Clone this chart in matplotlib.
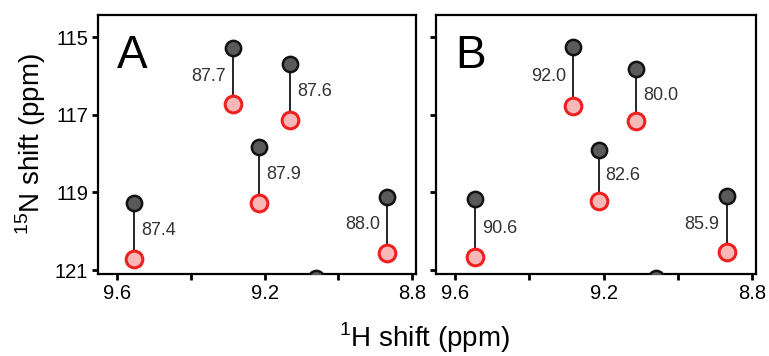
import matplotlib.pyplot as plt

plt.rcParams['font.family'] = ['Liberation Sans', 'DejaVu Sans']
plt.rcParams['mathtext.fontset'] = 'custom'
plt.rcParams['mathtext.rm'] = 'Liberation Sans'

# peak positions (1H ppm, 15N ppm)
h_a = [9.553, 9.286, 9.130, 9.214, 8.868]
n_black_a = [119.26, 115.29, 115.68, 117.82, 119.11]
n_red_a = [120.71, 116.72, 117.13, 119.28, 120.56]
labels_a = ['87.4', '87.7', '87.6', '87.9', '88.0']

h_b = [9.546, 9.283, 9.113, 9.213, 8.869]
n_black_b = [119.18, 115.25, 115.83, 117.90, 119.10]
n_red_b = [120.67, 116.77, 117.15, 119.23, 120.53]
labels_b = ['90.6', '92.0', '80.0', '82.6', '85.9']

label_side = ['right', 'left', 'right', 'right', 'left']
edge_peak = (9.06, 121.2)

fig = plt.figure(figsize=(7.69, 3.56), dpi=100)
ax_a = fig.add_axes([0.1274, 0.2303, 0.4135, 0.7275])
ax_b = fig.add_axes([0.567, 0.2303, 0.416, 0.7275])


def draw_panel(ax, h, n_black, n_red, labels, letter):
    for x, yb, yr, lab, side in zip(h, n_black, n_red, labels, label_side):
        ax.plot([x, x], [yb, yr], color='black', lw=1.2, zorder=2)
        ax.plot(x, yb, 'o', ms=11, mfc='#5a5a5a', mec='#111111', mew=1.8, zorder=3)
        ax.plot(x, yr, 'o', ms=12, mfc='#f8b8b8', mec='#ee2020', mew=2.2, zorder=3)
        dx = 5 if side == 'right' else -5
        ha = 'left' if side == 'right' else 'right'
        ax.annotate(lab, (x, (yb + yr) / 2), xytext=(dx, 0), textcoords='offset points',
                    ha=ha, va='center', fontsize=13, color='#333333')
    ax.plot(*edge_peak, 'o', ms=11, mfc='#5a5a5a', mec='#111111', mew=1.8, zorder=3)
    ax.text(0.06, 0.925, letter, transform=ax.transAxes, fontsize=33, va='top', ha='left')
    ax.set_xlim(9.651, 8.79)
    ax.set_ylim(121.1, 114.43)
    ax.set_xticks([9.6, 9.4, 9.2, 9.0, 8.8])
    ax.set_xticklabels(['9.6', '', '9.2', '', '8.8'])
    ax.set_yticks([115, 117, 119, 121])
    ax.tick_params(direction='out', length=4, width=2, labelsize=14.5, pad=3)
    for sp in ax.spines.values():
        sp.set_linewidth(1.6)


draw_panel(ax_a, h_a, n_black_a, n_red_a, labels_a, 'A')
draw_panel(ax_b, h_b, n_black_b, n_red_b, labels_b, 'B')
ax_b.set_yticklabels([])

ax_a.set_ylabel('$^{15}$N shift (ppm)', fontsize=20, labelpad=5)
fig.text(425 / 769, 1 - 338 / 356, '$^{1}$H shift (ppm)', fontsize=20, ha='center', va='center')

fig.savefig('out.png', dpi=100)
